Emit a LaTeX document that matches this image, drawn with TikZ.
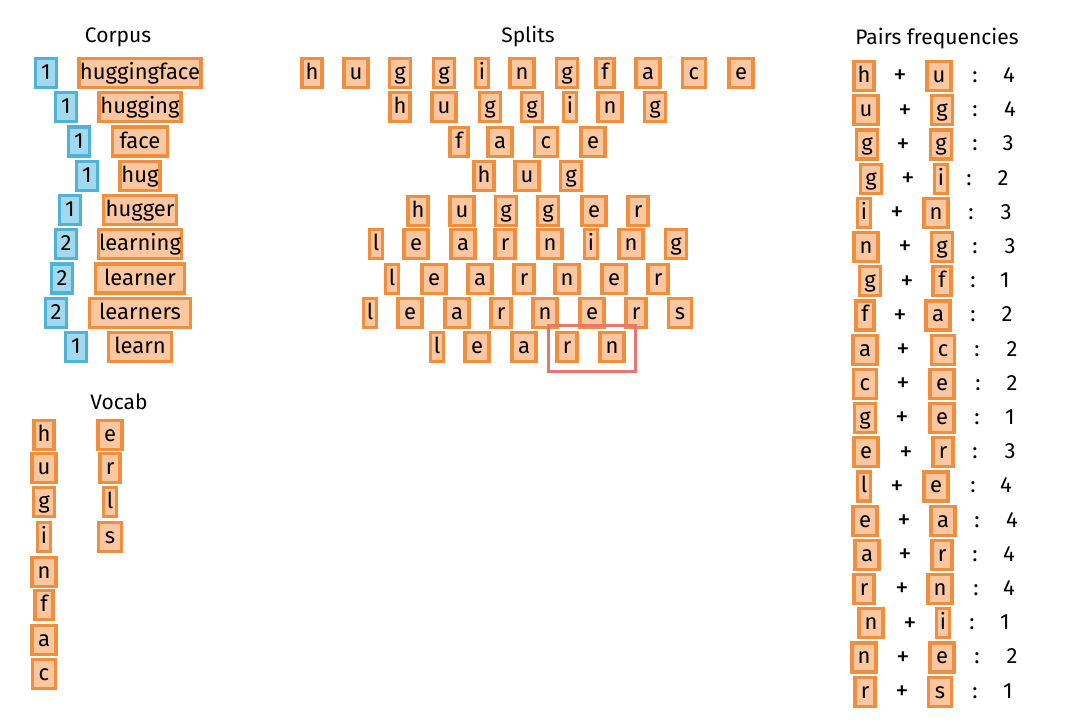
\documentclass[tikz,border=0pt]{standalone}
\usepackage{fontspec}
\setmainfont{Fira Sans}
\definecolor{obord}{HTML}{EF8E3E}
\definecolor{ofill}{HTML}{FBC7A0}
\definecolor{bbord}{HTML}{4FB3D6}
\definecolor{bfill}{HTML}{A3D9EE}
\definecolor{redbox}{HTML}{E8756E}
\tikzset{
  obox/.style={draw=obord, fill=ofill, line width=3.2pt, minimum height=29pt, inner xsep=0pt, inner ysep=0pt, text height=15pt, text depth=2pt, font=\fontsize{22}{26}\selectfont},
  bbox/.style={draw=bbord, fill=bfill, line width=3.2pt, minimum height=29pt, minimum width=21pt, inner sep=0pt, text height=15pt, text depth=2pt, font=\fontsize{22}{26}\selectfont},
  plain/.style={inner sep=0pt, text height=15pt, text depth=2pt, font=\fontsize{22}{26}\selectfont},
  title/.style={inner sep=0pt, font=\fontsize{21}{25}\selectfont},
  hl/.style={draw=redbox, line width=3pt},
}
% letter box widths
\def\wh{20}\def\wu{24}\def\wg{21}\def\wi{13}\def\wn{24}\def\wf{18}
\def\wa{24}\def\wc{23}\def\we{24}\def\wr{20}\def\wl{13}\def\ws{23}
\newcommand{\lbox}[4]{\node[obox, minimum width=\csname w#4\endcsname pt] (#1) at (#2,#3) {#4};}
\begin{document}
\begin{tikzpicture}[x=1pt,y=-1pt]
\useasboundingbox (0,0) rectangle (1080,724);
\fill[white] (0,0) rectangle (1080,724);

% titles
\node[title] (tcorpus) at (118,37) {Corpus};
\node[title] (tsplits) at (528,37) {Splits};
\node[title] (tpairs) at (937,39) {Pairs frequencies};
\node[title] (tvocab) at (119,402) {Vocab};

% corpus
\foreach \ii/\bx/\nn/\ww/\wwd in {1/46/1/huggingface/122, 2/66/1/hugging/82, 3/79/1/face/55, 4/87/1/hug/40, 5/70/1/hugger/73, 6/66/2/learning/83, 7/62/2/learner/89, 8/56/2/learners/101, 9/76/1/learn/63}{
  \pgfmathsetmacro{\yy}{73+34.25*(\ii-1)}
  \node[bbox] (cn\ii) at (\bx,\yy) {\nn};
  \node[obox, minimum width=\wwd pt] (cw\ii) at (140,\yy) {\ww};
}

% vocab
\lbox{v1}{44}{435}{h}
\lbox{v2}{44}{468}{u}
\lbox{v3}{44}{502}{g}
\lbox{v4}{44}{537}{i}
\lbox{v5}{44}{572}{n}
\lbox{v6}{44}{605}{f}
\lbox{v7}{44}{640}{a}
\lbox{v8}{44}{674}{c}
\lbox{v9}{110}{435}{e}
\lbox{v10}{110}{468}{r}
\lbox{v11}{110}{502}{l}
\lbox{v12}{110}{537}{s}

% splits
\foreach \x/\ch [count=\k] in {312/h,356/u,400/g,444/g,482/i,522/n,567/g,605/f,648/a,694/c,741/e}{\lbox{sa\k}{\x}{73}{\ch}}
\foreach \x/\ch [count=\k] in {400/h,444/u,490/g,532/g,570/i,610/n,655/g}{\lbox{sb\k}{\x}{107}{\ch}}
\foreach \x/\ch [count=\k] in {459/f,500/a,546/c,593/e}{\lbox{sc\k}{\x}{142}{\ch}}
\foreach \x/\ch [count=\k] in {484/h,527/u,571/g}{\lbox{sd\k}{\x}{176}{\ch}}
\foreach \x/\ch [count=\k] in {418/h,462/u,506/g,548/g,594/e,638/r}{\lbox{se\k}{\x}{211}{\ch}}
\foreach \x/\ch [count=\k] in {376/l,416/e,463/a,505/r,550/n,591/i,631/n,676/g}{\lbox{sf\k}{\x}{244}{\ch}}
\foreach \x/\ch [count=\k] in {392/l,434/e,480/a,524/r,567/n,614/e,658/r}{\lbox{sg\k}{\x}{279}{\ch}}
\foreach \x/\ch [count=\k] in {370/l,410/e,457/a,501/r,545/n,592/e,636/r,680/s}{\lbox{sh\k}{\x}{313}{\ch}}
\foreach \x/\ch [count=\k] in {437/l,477/e,524/a,567/r,612/n}{\lbox{si\k}{\x}{347}{\ch}}
\coordinate (hlA) at (548,325);
\coordinate (hlB) at (635,371);
\draw[hl] (hlA) rectangle (hlB);

% pairs frequencies
\foreach \ax/\pa/\px/\bx/\pb/\cx/\nx/\fq [count=\k] in {
 864/h/900/939/u/975/1009/4,
 866/u/905/942/g/975/1010/4,
 867/g/903/941/g/975/1008/3,
 871/g/908/941/i/969/1003/2,
 864/i/897/936/n/971/1006/3,
 866/n/905/942/g/975/1010/3,
 870/g/907/942/f/973/1005/1,
 865/f/900/938/a/973/1007/2,
 865/a/903/943/c/977/1012/2,
 865/c/903/942/e/978/1012/2,
 865/g/902/942/e/977/1010/1,
 866/e/906/943/r/975/1010/3,
 864/l/897/936/e/973/1006/4,
 865/e/904/943/a/977/1012/4,
 867/a/905/942/r/975/1009/4,
 864/r/902/940/n/976/1009/4,
 871/n/910/943/i/972/1005/1,
 864/n/903/942/e/977/1012/2,
 865/r/902/940/s/975/1008/1}{
  \pgfmathsetmacro{\yy}{76+34.2*(\k-1)}
  \lbox{pa\k}{\ax}{\yy}{\pa}
  \node[plain, scale=1.2] (pp\k) at (\px,\yy) {+};
  \lbox{pb\k}{\bx}{\yy}{\pb}
  \node[plain] (pc\k) at (\cx,\yy) {:};
  \node[plain] (pn\k) at (\nx,\yy) {\fq};
}
\end{tikzpicture}
\end{document}
